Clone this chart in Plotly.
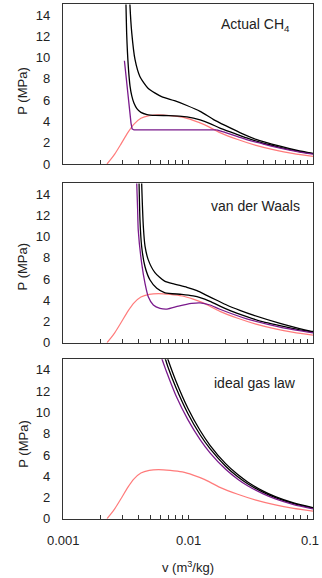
import plotly.graph_objects as go

# ---------------- data ----------------
# pink curve (same in all three panels)
V_SAT = [0.00225, 0.0024, 0.0026, 0.0029, 0.0033, 0.0037, 0.0042, 0.0049, 0.0058,
         0.0072, 0.009, 0.011, 0.0135, 0.018, 0.025, 0.035, 0.05, 0.07, 0.1]
P_SAT = [0.0, 0.4, 0.95, 1.85, 2.95, 3.75, 4.3, 4.55, 4.62,
         4.55, 4.4, 4.1, 3.7, 2.95, 2.3, 1.75, 1.3, 0.98, 0.72]

# Actual CH4 -- sub-critical isotherm: liquid branch + flat two-phase line, then vapour branch
V_ACT_LO_A = [0.0031, 0.0032, 0.0033, 0.0034, 0.0035, 0.00357, 0.0037, 0.017]
P_ACT_LO_A = [9.7, 8.1, 6.5, 5.0, 3.85, 3.3, 3.2, 3.2]
V_ACT_LO_B = [0.017, 0.02, 0.025, 0.0295, 0.035, 0.04, 0.0545, 0.075, 0.1]
P_ACT_LO_B = [3.2, 2.95, 2.58, 2.3, 2.05, 1.88, 1.5, 1.17, 0.92]
V_ACT_MID = [0.00316, 0.00319, 0.00323, 0.00333, 0.00344, 0.00355, 0.0037, 0.0039, 0.0042,
             0.0047, 0.0055, 0.007, 0.0085, 0.0098, 0.0125, 0.015, 0.018, 0.0235, 0.0295,
             0.04, 0.0545, 0.075, 0.1]
P_ACT_MID = [16.5, 15.0, 12.3, 9.15, 7.3, 6.4, 5.7, 5.2, 4.85,
             4.65, 4.57, 4.55, 4.5, 4.43, 4.14, 3.8, 3.38, 2.88, 2.45,
             1.95, 1.57, 1.22, 0.97]
V_ACT_HI = [0.0034, 0.00343, 0.00355, 0.00377, 0.00413, 0.00481, 0.00615, 0.0078,
            0.0098, 0.0125, 0.0159, 0.02, 0.026, 0.035, 0.0545, 0.075, 0.1]
P_ACT_HI = [16.5, 15.0, 12.3, 9.8, 8.2, 7.1, 6.33, 5.95,
            5.5, 4.95, 4.2, 3.6, 2.95, 2.32, 1.67, 1.27, 0.99]

# van der Waals
V_VDW_LO = [0.00386, 0.00389, 0.00395, 0.0040, 0.00426, 0.00453, 0.00481, 0.00528, 0.00597,
            0.0068, 0.0084, 0.0107, 0.0125, 0.015, 0.018, 0.0295, 0.0545, 0.1]
P_VDW_LO = [16.5, 15.0, 12.7, 10.6, 7.47, 5.59, 4.33, 3.55, 3.24,
            3.17, 3.45, 3.7, 3.75, 3.55, 3.15, 2.25, 1.47, 0.93]
V_VDW_MID = [0.00403, 0.00406, 0.00413, 0.00426, 0.00453, 0.00497, 0.00563, 0.00655, 0.0089,
             0.011, 0.0125, 0.015, 0.018, 0.022, 0.0295, 0.04, 0.0545, 0.075, 0.1]
P_VDW_MID = [16.5, 15.0, 11.5, 9.03, 7.15, 5.9, 5.12, 4.7, 4.55,
             4.4, 4.25, 3.9, 3.45, 3.0, 2.45, 1.95, 1.6, 1.25, 1.0]
V_VDW_HI = [0.00423, 0.00426, 0.0044, 0.00453, 0.00481, 0.00544, 0.0065, 0.0078, 0.0098,
            0.0118, 0.0141, 0.017, 0.0204, 0.026, 0.0333, 0.0545, 0.0953, 0.1]
P_VDW_HI = [16.5, 15.0, 10.8, 9.1, 7.8, 6.6, 5.8, 5.52, 5.22,
            4.9, 4.45, 4.0, 3.55, 3.05, 2.6, 1.83, 1.1, 1.06]

# ideal gas law
V_IG = [0.0058, 0.0062, 0.0066, 0.0069, 0.008, 0.01, 0.0125, 0.015, 0.02, 0.025, 0.03,
        0.04, 0.05, 0.07, 0.1]
P_IG_LO = [16.0, 15.0, 14.1, 13.5, 11.6, 9.3, 7.44, 6.2, 4.65, 3.72, 3.1,
           2.33, 1.86, 1.33, 0.93]
P_IG_MID = [17.0, 15.9, 15.0, 14.3, 12.35, 9.88, 7.9, 6.59, 4.94, 3.95, 3.29,
            2.47, 1.98, 1.41, 0.99]
P_IG_HI = [17.9, 16.7, 15.7, 15.0, 12.96, 10.37, 8.3, 6.91, 5.18, 4.15, 3.46,
           2.59, 2.07, 1.48, 1.04]

PANEL_LABELS = ["Actual CH<sub>4</sub>", "van der Waals", "ideal gas law"]
Y_TICKS = [0, 2, 4, 6, 8, 10, 12, 14]
X_MAJOR_LOG = [-3, -2, -1]          # log10 of 0.001, 0.01, 0.1
X_MAJOR_TEXT = ["0.001", "0.01", "0.1"]

# ---------------- styling ----------------
W, H = 322, 578
BLACK = "#000000"
PURPLE = "#7a1a8c"
PINK = "#ff7b7b"
FONT = "Liberation Sans, Arial, sans-serif"

X_DOM = [63 / W, 313 / W]
PANELS_PX = [(164.0, 4.4), (342.7, 183.4), (518.7, 359.3)]  # (bottom, top) px

SPL = dict(shape="spline", smoothing=0.6)
LIN = dict(shape="linear")

panels = [
    [(V_ACT_HI, P_ACT_HI, BLACK, SPL), (V_ACT_MID, P_ACT_MID, BLACK, SPL),
     (V_ACT_LO_A, P_ACT_LO_A, PURPLE, LIN), (V_ACT_LO_B, P_ACT_LO_B, PURPLE, SPL)],
    [(V_VDW_HI, P_VDW_HI, BLACK, SPL), (V_VDW_MID, P_VDW_MID, BLACK, SPL),
     (V_VDW_LO, P_VDW_LO, PURPLE, SPL)],
    [(V_IG, P_IG_HI, BLACK, SPL), (V_IG, P_IG_MID, BLACK, SPL), (V_IG, P_IG_LO, PURPLE, SPL)],
]

# minor + major tick positions on the log axis
x_tickvals = []
for dec in [0.001, 0.01]:
    for k in range(1, 10):
        x_tickvals.append(round(dec * k, 6))
x_tickvals.append(0.1)

fig = go.Figure()
layout = dict(
    width=W, height=H, margin=dict(l=0, r=0, t=0, b=0),
    paper_bgcolor="white", plot_bgcolor="white", showlegend=False,
    font=dict(family=FONT, size=13, color="#222"),
)
annotations = []
title_y = [91, 266.7, 444]
label_y = [25, 206, 383]

for i, curves in enumerate(panels):
    n = i + 1
    xa = f"x{n if n > 1 else ''}"
    ya = f"y{n if n > 1 else ''}"
    fig.add_trace(go.Scatter(x=V_SAT, y=P_SAT, mode="lines", xaxis=xa, yaxis=ya,
                             line=dict(color=PINK, width=1.2, **SPL)))
    for vv, pp, col, shp in curves:
        fig.add_trace(go.Scatter(x=vv, y=pp, mode="lines", xaxis=xa, yaxis=ya,
                                 line=dict(color=col, width=1.3, **shp)))
    bot, top = PANELS_PX[i]
    layout[f"xaxis{n if n > 1 else ''}"] = dict(
        type="log", range=[-3, -1], domain=X_DOM, anchor=ya,
        showgrid=False, zeroline=False, showline=True, mirror=True,
        linecolor="#333", linewidth=1.3,
        tickmode="array", tickvals=x_tickvals, showticklabels=False,
        ticks="inside", ticklen=4, tickcolor="#333", tickwidth=1,
        automargin=False,
    )
    layout[f"yaxis{n if n > 1 else ''}"] = dict(
        range=[0, 15], domain=[(H - bot) / H, (H - top) / H], anchor=xa,
        showgrid=False, zeroline=False, showline=True, mirror=True,
        linecolor="#333", linewidth=1.3,
        tickmode="array", tickvals=Y_TICKS, ticks="",
        ticklabelstandoff=9, tickfont=dict(size=13, color="#222"),
        automargin=False,
    )
    annotations.append(dict(text="P (MPa)", x=22.7 / W, y=1 - title_y[i] / H,
                            xref="paper", yref="paper", showarrow=False, textangle=-90,
                            font=dict(size=13, color="#222"), xanchor="center", yanchor="middle"))
    annotations.append(dict(text=PANEL_LABELS[i], x=255 / W, y=1 - label_y[i] / H,
                            xref="paper", yref="paper", showarrow=False,
                            font=dict(size=14, color="#222"), xanchor="center", yanchor="middle"))

# x tick labels of the bottom panel (log axis -> annotation x in log10 units)
for lx, txt in zip(X_MAJOR_LOG, X_MAJOR_TEXT):
    last = lx == X_MAJOR_LOG[-1]
    annotations.append(dict(text=txt, x=lx, xref="x3", y=1 - 540 / H, yref="paper",
                            showarrow=False, xanchor="right" if last else "center",
                            xshift=8 if last else 0, yanchor="middle",
                            font=dict(size=13, color="#222")))

annotations.append(dict(text="v (m<sup>3</sup>/kg)", x=188 / W, y=1 - 567 / H,
                        xref="paper", yref="paper", showarrow=False,
                        font=dict(size=13, color="#222"), xanchor="center", yanchor="middle"))
layout["annotations"] = annotations
fig.update_layout(**layout)
fig.write_html("out.html")
